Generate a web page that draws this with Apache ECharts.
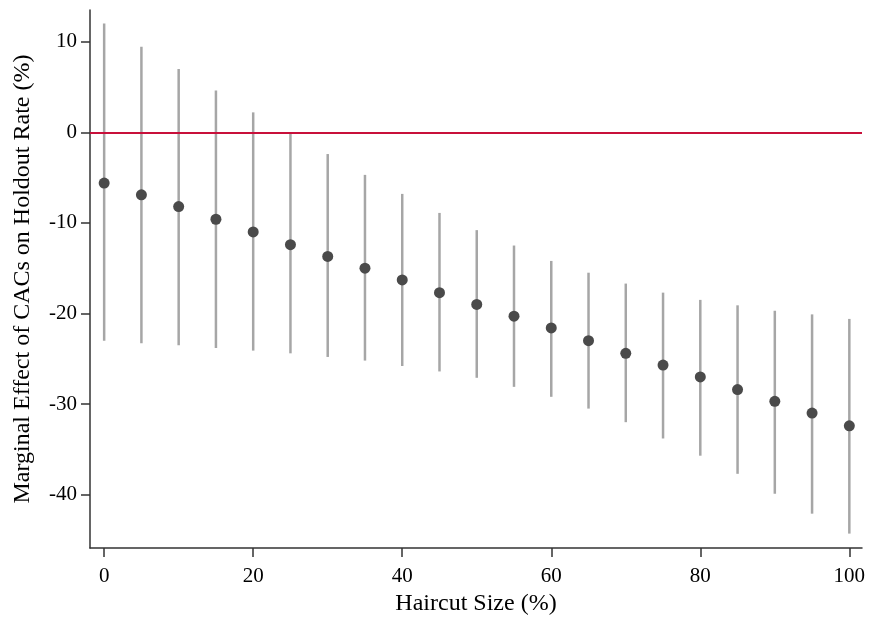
<!DOCTYPE html>
<html>
<head>
<meta charset="utf-8">
<script src="https://cdn.jsdelivr.net/npm/echarts@6/dist/echarts.min.js"></script>
<style>html,body{margin:0;padding:0;background:#fff}#c{width:870px;height:621px}</style>
</head>
<body>
<div id="c"></div>
<script>
var haircut = [0,5,10,15,20,25,30,35,40,45,50,55,60,65,70,75,80,85,90,95,100];
var effect  = [-5.6,-6.9,-8.2,-9.6,-11.0,-12.4,-13.7,-15.0,-16.3,-17.7,-19.0,-20.3,-21.6,-23.0,-24.4,-25.7,-27.0,-28.4,-29.7,-31.0,-32.4];
var upperCI = [12.0,9.45,7.0,4.6,2.2,-0.1,-2.4,-4.7,-6.8,-8.9,-10.8,-12.5,-14.2,-15.5,-16.7,-17.7,-18.5,-19.1,-19.7,-20.1,-20.6];
var lowerCI = [-23.0,-23.3,-23.5,-23.8,-24.1,-24.4,-24.8,-25.2,-25.8,-26.4,-27.1,-28.1,-29.2,-30.5,-32.0,-33.8,-35.7,-37.7,-39.9,-42.1,-44.3];
var xTicks = [0,20,40,60,80,100];
var yTicks = [-40,-30,-20,-10,0,10];

var font = 'Liberation Serif';
var chart = echarts.init(document.getElementById('c'), null, {renderer:'canvas'});
var ciData = haircut.map(function(h,i){ return [h, lowerCI[i], upperCI[i]]; });
var ptData = haircut.map(function(h,i){ return [h, effect[i]]; });

chart.setOption({
  animation:false,
  backgroundColor:'#fff',
  grid:{left:90, right:8, top:10, bottom:70},
  xAxis:{
    type:'value', min:-1.9, max:101.7,
    name:'Haircut Size (%)', nameLocation:'middle', nameGap:40,
    nameTextStyle:{fontFamily:font, fontSize:24, color:'#000'},
    axisLine:{show:true, onZero:false, lineStyle:{color:'#333', width:1.5}},
    axisTick:{show:true, length:9, customValues:xTicks, lineStyle:{color:'#333', width:1.5}},
    axisLabel:{customValues:xTicks, margin:18, fontFamily:font, fontSize:21, color:'#000'},
    splitLine:{show:false}
  },
  yAxis:{
    type:'value', min:-45.9, max:13.5,
    name:'Marginal Effect of CACs on Holdout Rate (%)', nameLocation:'middle', nameGap:55,
    nameTextStyle:{fontFamily:font, fontSize:24, color:'#000'},
    axisLine:{show:true, onZero:false, lineStyle:{color:'#333', width:1.5}},
    axisTick:{show:true, length:9, customValues:yTicks, lineStyle:{color:'#333', width:1.5}},
    axisLabel:{customValues:yTicks, margin:13, fontFamily:font, fontSize:21, color:'#000'},
    splitLine:{show:false}
  },
  series:[
    {
      type:'custom',
      data:ciData,
      z:2,
      renderItem:function(params, api){
        var x = api.value(0);
        var p1 = api.coord([x, api.value(1)]);
        var p2 = api.coord([x, api.value(2)]);
        return {type:'line', shape:{x1:p1[0], y1:p1[1], x2:p2[0], y2:p2[1]},
                style:{stroke:'#a6a6a6', lineWidth:2.5}};
      },
      encode:{x:0, y:[1,2]},
      markLine:{
        silent:true, symbol:'none', label:{show:false},
        lineStyle:{color:'#c8103a', width:2, type:'solid'},
        data:[{yAxis:0}]
      }
    },
    {
      type:'scatter',
      data:ptData,
      z:3,
      symbol:'circle',
      symbolSize:11,
      itemStyle:{color:'#4a4a4a', opacity:1}
    }
  ]
});
</script>
</body>
</html>
